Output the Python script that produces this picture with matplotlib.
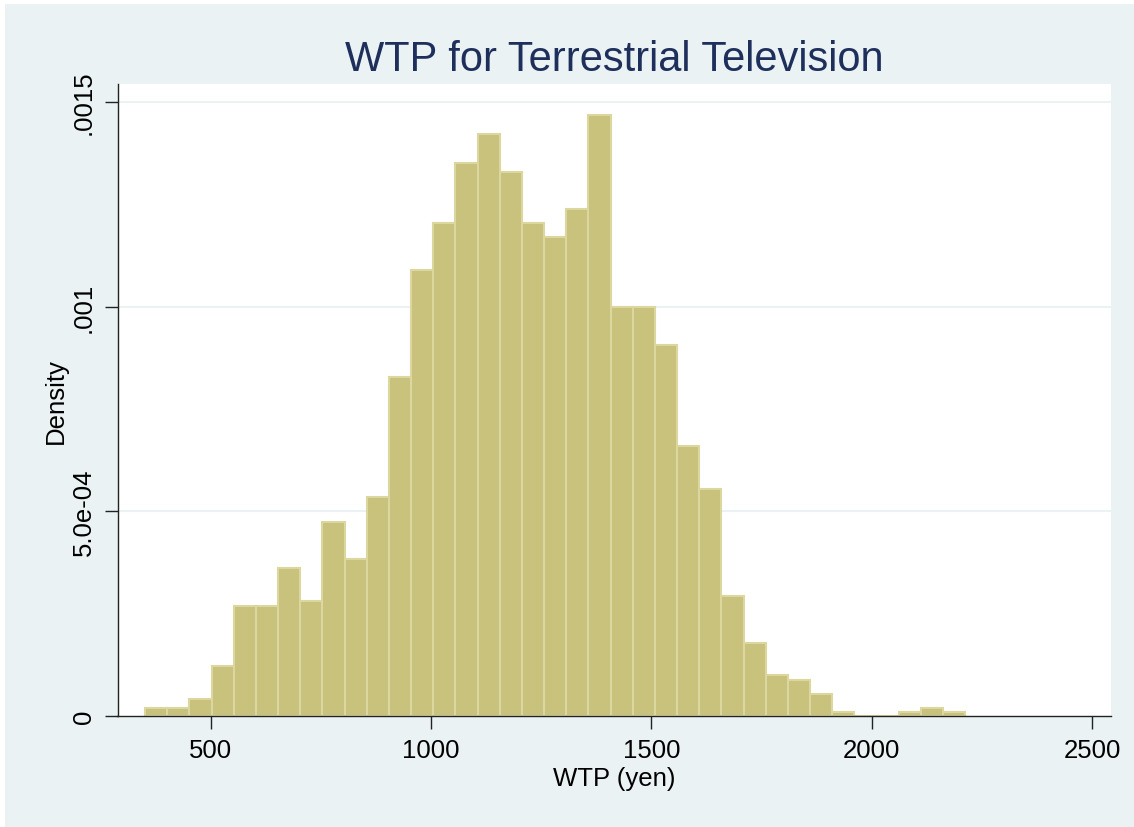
"""Histogram of WTP for terrestrial television (Stata s2color look)."""

import matplotlib.pyplot as plt
from matplotlib.patches import Rectangle

plt.rcParams["font.family"] = ["Liberation Sans", "DejaVu Sans"]

# Density of each bin
densities = [
    2.0e-5, 2.0e-5, 4.3e-5, 1.23e-4, 2.69e-4, 2.69e-4, 3.63e-4, 2.82e-4,
    4.75e-4, 3.84e-4, 5.35e-4, 8.28e-4, 1.090e-3, 1.204e-3, 1.351e-3,
    1.420e-3, 1.328e-3, 1.204e-3, 1.171e-3, 1.237e-3, 1.467e-3, 9.98e-4,
    9.98e-4, 9.07e-4, 6.59e-4, 5.55e-4, 2.94e-4, 1.78e-4, 1.01e-4, 8.8e-5,
    5.5e-5, 1.0e-5, 0.0, 0.0, 1.0e-5, 2.0e-5, 1.0e-5,
]
bin_start = 351.0
bin_width = 50.3

x_ticks = [500, 1000, 1500, 2000, 2500]
y_ticks = [0, 0.0005, 0.001, 0.0015]
y_tick_labels = ["0", "5.0e-04", ".001", ".0015"]

BG = "#EAF2F3"
BAR_FILL = "#C9C27D"
BAR_EDGE = "#DCD79F"
TITLE_COLOR = "#1E2F5C"

fig = plt.figure(figsize=(11.34, 8.28), dpi=100, facecolor="white")
# light outer graph region, with a thin white margin on the top/left
fig.patches.append(Rectangle((5 / 1134, 0), 1 - 5 / 1134, 1 - 5 / 828,
                             transform=fig.transFigure, facecolor=BG,
                             edgecolor="none", zorder=-10))

ax = fig.add_axes([117.5 / 1134, 1 - 717.3 / 828, (1111 - 117.5) / 1134, (717.3 - 85) / 828])
ax.set_facecolor("white")

edges = [bin_start + i * bin_width for i in range(len(densities))]
ax.bar(edges, densities, width=bin_width, align="edge", color=BAR_FILL,
       edgecolor=BAR_EDGE, linewidth=1.5, zorder=3)

ax.set_xlim(288.5, 2543)
ax.set_ylim(0, 0.0015432)

ax.set_xticks(x_ticks)
ax.set_xticklabels([str(v) for v in x_ticks])
ax.set_yticks(y_ticks)
ax.set_yticklabels(y_tick_labels, rotation=90, va="center")

for y in y_ticks[1:]:
    ax.axhline(y, color=BG, linewidth=1.5, zorder=1)

for side in ("top", "right"):
    ax.spines[side].set_visible(False)
for side in ("left", "bottom"):
    ax.spines[side].set_color("#222222")
    ax.spines[side].set_linewidth(1.0)
    ax.spines[side].set_zorder(4)

ax.tick_params(axis="both", direction="out", length=9.5, width=1.0,
               color="#222222", labelsize=18.5, labelcolor="black")
ax.tick_params(axis="x", pad=6)
ax.tick_params(axis="y", pad=6)

ax.set_xlabel("WTP (yen)", fontsize=18.5, labelpad=3)
ax.set_ylabel("Density", fontsize=18.5, labelpad=3)
ax.set_title("WTP for Terrestrial Television", fontsize=30, color=TITLE_COLOR, pad=10)

fig.savefig("out.png", dpi=100, facecolor=fig.get_facecolor())
